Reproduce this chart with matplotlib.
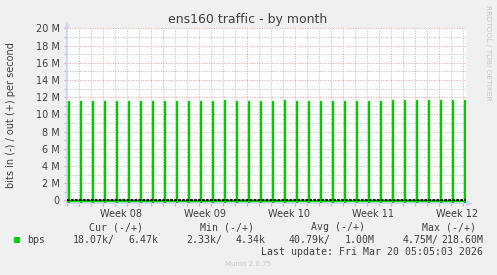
import numpy as np
import matplotlib
matplotlib.use('Agg')
import matplotlib.pyplot as plt
from matplotlib.patches import Polygon, Rectangle

W, H = 497, 275

# ---------------- data ----------------
# x axis: days since Monday 2026-02-16 00:00 (start of ISO week 08)
week_labels = ['Week 08', 'Week 09', 'Week 10', 'Week 11', 'Week 12']
week_starts = [0, 7, 14, 21, 28]
x_start, x_end = -1.025, 32.21          # Sat Feb 14 23:24 .. Fri Mar 20 05:05
# daily backup spike (2h average, bits/s out), one per day from day -1 to day 32
spike_days = list(range(-1, 33))
spike_out = [11.56e6, 11.56e6, 11.56e6, 11.56e6, 11.56e6, 11.56e6, 11.56e6,
             11.56e6, 11.56e6, 11.56e6, 11.56e6, 11.56e6, 11.56e6, 11.67e6,
             11.56e6, 11.56e6, 11.56e6, 11.56e6, 11.67e6, 11.56e6, 11.56e6,
             11.56e6, 11.56e6, 11.56e6, 11.56e6, 11.56e6, 11.56e6, 11.67e6,
             11.67e6, 11.67e6, 11.67e6, 11.67e6, 11.67e6, 11.67e6]
spike_in = [-0.45e6] * 34
spike_hour = 1.4                       # time of day of the spike (hours)
bump_days = [3.53, 7.56, 11.48, 15.56, 18.56, 31.48]
bump_vals = [0.12e6, 0.12e6, 0.12e6, 0.12e6, 0.12e6, 0.12e6]
base_out = 6.47e3
base_in = -18.07e3

y_major = [0, 2e6, 4e6, 6e6, 8e6, 10e6, 12e6, 14e6, 16e6, 18e6, 20e6]
y_labels = ['0', '2 M', '4 M', '6 M', '8 M', '10 M', '12 M', '14 M', '16 M', '18 M', '20 M']
y_minor = [1e6, 3e6, 5e6, 7e6, 9e6, 11e6, 13e6, 15e6, 17e6, 19e6]
y_min, y_max = -0.33e6, 20e6

leg_head = ['Cur (-/+)', 'Min (-/+)', 'Avg (-/+)', 'Max (-/+)']
leg_in = ['18.07k/', '2.33k/', '40.79k/', '4.75M/']
leg_out = ['6.47k', '4.34k', '1.00M', '218.60M']

# -------------- build 2h series --------------
step = 1 / 12.0
t = np.arange(x_start + (spike_hour / 24.0 - x_start) % step - step, x_end + step, step)
out_v = np.full(t.shape, base_out)
in_v = np.full(t.shape, base_in)
for d, vo, vi in zip(spike_days, spike_out, spike_in):
    i = int(np.argmin(np.abs(t - (d + spike_hour / 24.0))))
    out_v[i] = vo
    in_v[i] = vi
for d, v in zip(bump_days, bump_vals):
    i = int(np.argmin(np.abs(t - d)))
    out_v[i] = v

# -------------- figure --------------
BG = '#f0f0f0'
TXT = '#404040'
GREEN = '#00cc00'
PINK = '#e49a9a'
GRAY = '#b8b8b8'
AXC = '#ccd4f4'

fig = plt.figure(figsize=(W / 100, H / 100), dpi=100, facecolor=BG)
L, R, T, B = 67, 466, 28.3, 203.3
ax = fig.add_axes([L / W, 1 - B / H, (R - L) / W, (B - T) / H])
ax.set_facecolor('white')
ax.set_xlim(x_start, x_end)
ax.set_ylim(y_min, y_max)

# grid
dot = (0, (1, 1.6))
for d in range(-1, 33):
    if d in week_starts:
        continue
    ax.axvline(d, color=GRAY, lw=0.7, ls=dot, zorder=1)
for y in y_minor:
    ax.axhline(y, color=GRAY, lw=0.7, ls=dot, zorder=1)
for d in week_starts:
    ax.axvline(d, color=PINK, lw=0.7, ls=dot, zorder=1.5)
for y in y_major[1:]:
    ax.axhline(y, color=PINK, lw=0.7, ls=dot, zorder=1.5)

# data
ax.plot(t, in_v, color=GREEN, lw=0.95, drawstyle='steps-mid', zorder=3)
ax.plot(t, out_v, color=GREEN, lw=0.95, drawstyle='steps-mid', zorder=3)
ax.axhline(0, color='black', lw=1.3, dashes=(1.5, 0.7), zorder=4)

# axes styling
for s in ['top', 'right']:
    ax.spines[s].set_visible(False)
for s in ['left', 'bottom']:
    ax.spines[s].set_color(AXC)
    ax.spines[s].set_linewidth(1.2)

ax.set_yticks(y_major, y_labels)
ax.set_yticks(y_minor, minor=True)
ax.tick_params(axis='y', which='major', length=2, width=0.8, color=PINK,
               labelsize=7, labelcolor=TXT, pad=3.2)
ax.tick_params(axis='y', which='minor', length=2, width=0.8, color=GRAY)

ax.set_xticks([w + 3.5 for w in week_starts], week_labels)
ax.set_xticks(list(range(-1, 33)), minor=True)
ax.tick_params(axis='x', which='major', length=0, labelsize=7, labelcolor=TXT, pad=4.2)
ax.tick_params(axis='x', which='minor', length=2, width=0.8, color=GRAY)
for tk, d in zip(ax.xaxis.get_minor_ticks(), range(-1, 33)):
    if d in week_starts:
        tk.tick1line.set_color(PINK)

def px(x, y):
    return (x / W, 1 - y / H)

# axis arrows
fig.patches.append(Polygon([px(64, 28.5), px(70, 28.5), px(67, 21.5)], closed=True,
                           transform=fig.transFigure, facecolor=AXC, edgecolor='none'))
fig.patches.append(Polygon([px(466, 200.3), px(466, 206.3), px(473, 203.3)], closed=True,
                           transform=fig.transFigure, facecolor=AXC, edgecolor='none'))

# texts
fig.text(*px(248, 19.3), 'ens160 traffic - by month', ha='center', va='center',
         fontsize=9, color=TXT)
fig.text(*px(11, 115), 'bits in (-) / out (+) per second', ha='center', va='center',
         rotation=90, fontsize=7, color=TXT)
fig.text(*px(487.7, 53.3), 'RRDTOOL / TOBI OETIKER', ha='center', va='center',
         rotation=270, fontsize=5.4, color='#c8c8c8')

MONO = 'DejaVu Sans Mono'
fs = 7.1
for hx, h in zip([116, 227, 338, 449], leg_head):
    fig.text(*px(hx, 227.3), h, ha='center', va='center', family=MONO, fontsize=fs, color=TXT)
fig.patches.append(Rectangle(px(14, 243), 6 / W, 6 / H, transform=fig.transFigure,
                             facecolor=GREEN, edgecolor='none'))
fig.text(*px(27, 240), 'bps', ha='left', va='center', family=MONO, fontsize=fs, color=TXT)
for xl, s in zip([72.7, 186.7, 288.7, 403], leg_in):
    fig.text(*px(xl, 240), s, ha='left', va='center', family=MONO, fontsize=fs, color=TXT)
for xr, s in zip([158, 266, 375, 483], leg_out):
    fig.text(*px(xr, 240), s, ha='right', va='center', family=MONO, fontsize=fs, color=TXT)
fig.text(*px(483, 251.7), 'Last update: Fri Mar 20 05:05:03 2026', ha='right', va='center',
         family=MONO, fontsize=fs, color=TXT)
fig.text(*px(247.7, 263.7), 'Munin 2.0.75', ha='center', va='center', fontsize=5,
         color='#c8c8c8')

fig.savefig('out.png', dpi=100, facecolor=BG)
